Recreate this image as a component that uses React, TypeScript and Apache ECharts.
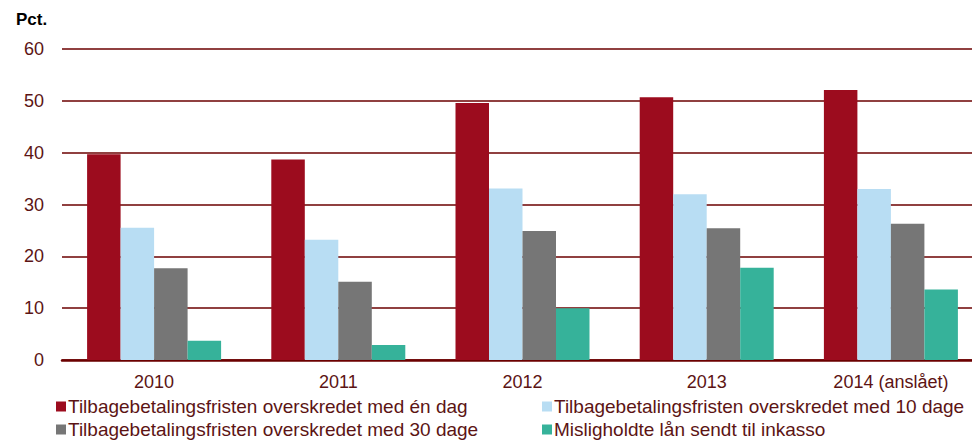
import React, { useEffect, useRef } from "react";
import * as echarts from "echarts";

const categories = ["2010", "2011", "2012", "2013", "2014 (anslået)"];
const seriesNames = [
  "Tilbagebetalingsfristen overskredet med én dag",
  "Tilbagebetalingsfristen overskredet med 10 dage",
  "Tilbagebetalingsfristen overskredet med 30 dage",
  "Misligholdte lån sendt til inkasso",
];
const oneDay = [39.7, 38.7, 49.6, 50.7, 52.1];
const tenDays = [25.5, 23.2, 33.1, 32.0, 33.0];
const thirtyDays = [17.7, 15.1, 24.9, 25.4, 26.3];
const collection = [3.7, 2.9, 10.0, 17.8, 13.6];
const colors = ["#9C0C1E", "#B8DDF3", "#767676", "#36B29A"];
const yTicks = { min: 0, max: 60, interval: 10 };

const FONT = "'Liberation Sans', Arial, sans-serif";
const TEXT = "#5C1414";

export default function App() {
  const ref = useRef<HTMLDivElement>(null);
  useEffect(() => {
    if (!ref.current) return;
    const chart = echarts.init(ref.current, null, { renderer: "svg" });
    const values = [oneDay, tenDays, thirtyDays, collection];
    const legendPos = [
      { left: 56, top: 397 },
      { left: 542, top: 397 },
      { left: 56, top: 420 },
      { left: 542, top: 420 },
    ];
    chart.setOption({
      animation: false,
      textStyle: { fontFamily: FONT },
      title: {
        text: "Pct.",
        left: 11,
        top: 6,
        textStyle: { fontFamily: FONT, fontSize: 17, fontWeight: "bold", color: "#000" },
      },
      legend: seriesNames.map((n, i) => ({
        data: [n],
        left: legendPos[i].left,
        top: legendPos[i].top,
        itemWidth: 10,
        itemHeight: 10,
        icon: "rect",
        itemGap: 0,
        padding: 0,
        textStyle: { fontFamily: FONT, fontSize: 19, color: TEXT, padding: [0, 0, 0, -3] },
      })),
      grid: { left: 62, right: 0, top: 49, bottom: 80, containLabel: false },
      xAxis: {
        type: "category",
        data: categories,
        axisLine: { show: true, lineStyle: { color: "#6B0000", width: 2.5 } },
        axisTick: { show: false },
        axisLabel: { fontFamily: FONT, fontSize: 18, color: TEXT, margin: 13 },
      },
      yAxis: {
        type: "value",
        min: yTicks.min,
        max: yTicks.max,
        interval: yTicks.interval,
        axisLine: { show: false },
        axisTick: { show: false },
        axisLabel: { fontFamily: FONT, fontSize: 18, color: TEXT, margin: 18 },
        splitLine: { lineStyle: { color: "#6B0000", width: 1.5 } },
      },
      series: seriesNames.map((n, i) => ({
        name: n,
        type: "bar",
        data: values[i],
        barWidth: 33.5,
        barGap: "0%",
        itemStyle: { color: colors[i] },
      })),
    });
    return () => chart.dispose();
  }, []);
  return (
    <div style={{ position: "fixed", left: 0, top: 0, width: 972, height: 440, overflow: "hidden", background: "#fff" }}>
      <div ref={ref} style={{ width: 983, height: 440 }} />
    </div>
  );
}
